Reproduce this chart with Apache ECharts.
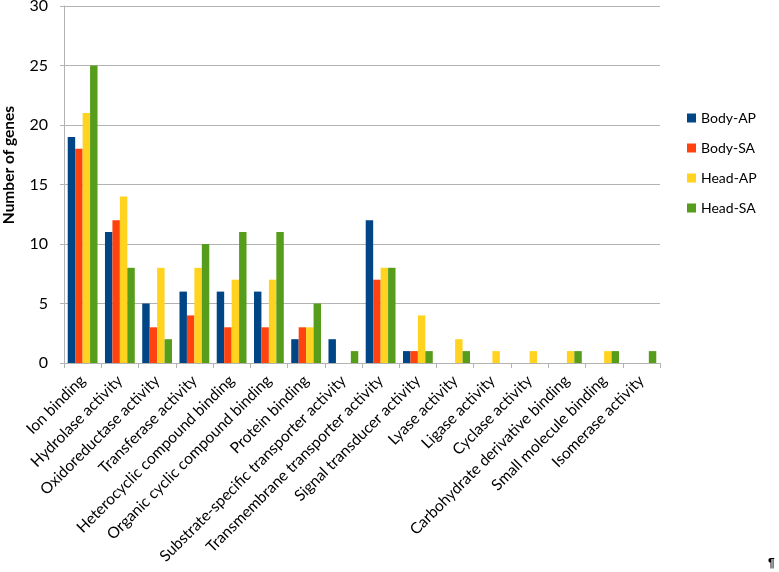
<!DOCTYPE html>
<html>
<head>
<meta charset="utf-8">
<script src="https://cdn.jsdelivr.net/npm/echarts@6/dist/echarts.min.js"></script>
<style>html,body{margin:0;padding:0;background:#fff}#c{width:779px;height:572px}</style>
</head>
<body>
<div id="c"></div>
<script>
const categories = ["Ion binding","Hydrolase activity","Oxidoreductase activity","Transferase activity","Heterocyclic compound binding","Organic cyclic compound binding","Protein binding","Substrate-specific transporter activity","Transmembrane transporter activity","Signal transducer activity","Lyase activity","Ligase activity","Cyclase activity","Carbohydrate derivative binding","Small molecule binding","Isomerase activity"];
const bodyAP = [19,11,5,6,6,6,2,2,12,1,0,0,0,0,0,0];
const bodySA = [18,12,3,4,3,3,3,0,7,1,0,0,0,0,0,0];
const headAP = [21,14,8,8,7,7,3,0,8,4,2,1,1,1,1,0];
const headSA = [25,8,2,10,11,11,5,1,8,1,1,0,0,1,1,1];
const seriesNames = ["Body-AP","Body-SA","Head-AP","Head-SA"];
const colors = ["#004586","#ff420e","#ffd320","#579d1c"];
const yTicks = [0,5,10,15,20,25,30];
const yTitle = "Number of genes";

const font = "Lato, 'Open Sans', sans-serif";
const chart = echarts.init(document.getElementById('c'), null, {renderer:'canvas'});
const data = [bodyAP, bodySA, headAP, headSA];
chart.setOption({
  animation:false,
  color: colors,
  textStyle:{fontFamily:font},
  grid:{left:64, right:119, top:6, bottom:209, containLabel:false, outerBoundsMode:'none'},
  legend:{
    orient:'vertical', left:682, top:106, itemWidth:9, itemHeight:9, itemGap:16,
    icon:'rect',
    textStyle:{fontSize:14, color:'#000', fontFamily:font},
    data: seriesNames
  },
  xAxis:{
    type:'category', data:categories,
    axisLine:{lineStyle:{color:'#b3b3b3'}},
    axisTick:{show:true, length:5, lineStyle:{color:'#b3b3b3'}},
    axisLabel:{interval:0, rotate:45, fontSize:15.5, color:'#000', margin:15, fontFamily:font},
    splitLine:{show:false}
  },
  yAxis:{
    type:'value', min:yTicks[0], max:yTicks[yTicks.length-1], interval:5,
    axisLine:{show:true, lineStyle:{color:'#b3b3b3'}},
    axisTick:{show:true, length:4, lineStyle:{color:'#b3b3b3'}},
    axisLabel:{fontSize:16, color:'#000', margin:16, fontFamily:font},
    splitLine:{lineStyle:{color:'#b3b3b3'}}
  },
  graphic:[
    {type:'text', x:9, y:165, rotation:Math.PI/2,
     style:{text:yTitle, align:'center', verticalAlign:'middle', fontSize:15.5, fontWeight:'bold', fontFamily:font, fill:'#000'}},
    {type:'text', left:768, top:558, style:{text:'\u00b6', fontSize:12, fontWeight:'bold', fill:'#000'}}
  ],
  series: seriesNames.map((n,i)=>({
    name:n, type:'bar', data:data[i], barGap:'0%', barCategoryGap:'20%'
  }))
});
</script>
</body>
</html>
